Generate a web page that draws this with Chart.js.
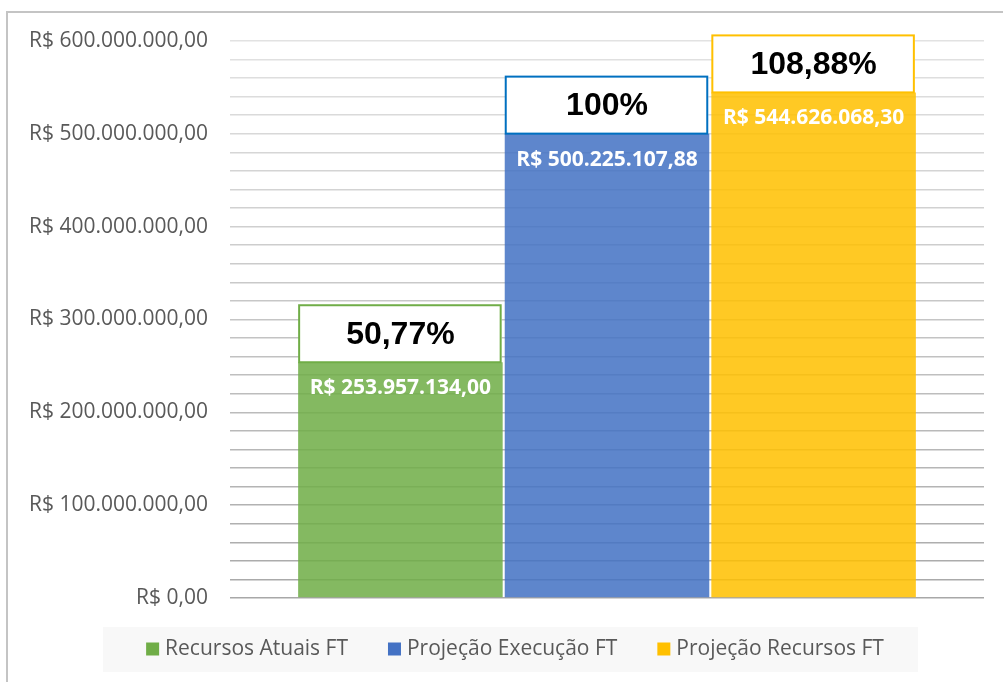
<!DOCTYPE html>
<html>
<head>
<meta charset="utf-8">
<script src="https://cdn.jsdelivr.net/npm/chart.js@4"></script>
<style>
  html, body { margin: 0; padding: 0; background: #fff; overflow: hidden; }
  #wrap { position: relative; width: 1003px; height: 682px; }
  #frame { position: absolute; left: 6px; top: 11px; width: 1100px; height: 800px; border: 2px solid #c4c4c4; }
  canvas { position: absolute; left: 0; top: 0; }
</style>
</head>
<body>
<div id="wrap">
  <div id="frame"></div>
  <canvas id="chart" width="1003" height="682"></canvas>
</div>
<script>
const seriesNames = ['Recursos Atuais FT', 'Projeção Execução FT', 'Projeção Recursos FT'];
const seriesValues = [253957134.00, 500225107.88, 544626068.30];
const percentLabels = ['50,77%', '100%', '108,88%'];
const barColors = ['rgba(112,173,71,0.86)', 'rgba(68,114,196,0.86)', 'rgba(255,192,0,0.86)'];
const boxColors = ['#70ad47', '#0070c0', '#ffc000'];
const legendColors = ['#70ad47', '#4472c4', '#ffc000'];

function brl(v) {
  const parts = v.toFixed(2).split('.');
  return 'R$ ' + parts[0].replace(/\B(?=(\d{3})+(?!\d))/g, '.') + ',' + parts[1];
}

// labels inside the bars + percentage boxes above them
const barLabels = {
  id: 'barLabels',
  afterDatasetsDraw(chart) {
    const ctx = chart.ctx;
    ctx.save();
    chart.data.datasets.forEach((ds, i) => {
      const bar = chart.getDatasetMeta(i).data[0];
      const left = bar.x - bar.width / 2;
      const boxH = 57;

      // white box with the percentage
      ctx.fillStyle = '#fff';
      ctx.fillRect(left + 1, bar.y - boxH, bar.width - 2, boxH);
      ctx.strokeStyle = boxColors[i];
      ctx.lineWidth = 2;
      ctx.strokeRect(left + 1, bar.y - boxH, bar.width - 3, boxH);
      ctx.fillStyle = '#000';
      ctx.font = 'bold 32px "Liberation Sans", Arial, sans-serif';
      ctx.textAlign = 'center';
      ctx.textBaseline = 'middle';
      ctx.fillText(percentLabels[i], bar.x, bar.y - boxH / 2 + 1);

      // value inside the bar
      ctx.fillStyle = '#fff';
      ctx.font = 'bold 21px "Open Sans", sans-serif';
      ctx.fillText(brl(ds.data[0]), bar.x, bar.y + 26);
    });
    ctx.restore();
  }
};

// legend on a light gray band
const bandLegend = {
  id: 'bandLegend',
  afterDraw(chart) {
    const ctx = chart.ctx;
    ctx.save();
    ctx.font = '21px "Open Sans", sans-serif';
    const box = 13, gapText = 6, gapItem = 40;
    const widths = chart.data.datasets.map(ds => ctx.measureText(ds.label).width);
    let total = widths.reduce((a, w) => a + box + gapText + w, 0) + gapItem * (widths.length - 1);
    const cy = 649;
    ctx.fillStyle = '#f8f8f8';
    ctx.fillRect(103, 627, 815, 45);
    let x = 515 - total / 2;
    chart.data.datasets.forEach((ds, i) => {
      ctx.fillStyle = legendColors[i];
      ctx.fillRect(x, cy - box / 2, box, box);
      x += box + gapText;
      ctx.fillStyle = '#595959';
      ctx.textAlign = 'left';
      ctx.textBaseline = 'middle';
      ctx.fillText(ds.label, x, cy);
      x += widths[i] + gapItem;
    });
    ctx.restore();
  }
};

function gridColor(ctx) {
  const v = ctx.tick ? ctx.tick.value : 0;
  const t = v / 600000000;
  const c = Math.round(168 + (226 - 168) * t);
  return 'rgb(' + c + ',' + c + ',' + c + ')';
}

new Chart(document.getElementById('chart'), {
  type: 'bar',
  data: {
    labels: [''],
    datasets: seriesNames.map((name, i) => ({
      label: name,
      data: [seriesValues[i]],
      backgroundColor: barColors[i],
      borderWidth: 0,
      barPercentage: 0.99,
      categoryPercentage: 0.822
    }))
  },
  options: {
    responsive: false,
    animation: false,
    layout: {
      padding: { top: 41, left: 7, right: 19, bottom: 84 }
    },
    plugins: {
      legend: { display: false },
      tooltip: { enabled: false }
    },
    scales: {
      x: {
        display: false,
        grid: { display: false }
      },
      y: {
        min: 0,
        max: 600000000,
        afterFit(scale) { scale.width = 223; },
        border: { display: false },
        grid: {
          color: gridColor,
          lineWidth: 1.6,
          drawTicks: false
        },
        ticks: {
          stepSize: 20000000,
          autoSkip: false,
          padding: 22,
          color: '#595959',
          font: { family: '"Open Sans", sans-serif', size: 21 },
          callback: function(value) {
            return value % 100000000 === 0 ? brl(value) : '';
          }
        }
      }
    }
  },
  plugins: [barLabels, bandLegend]
});
</script>
</body>
</html>
